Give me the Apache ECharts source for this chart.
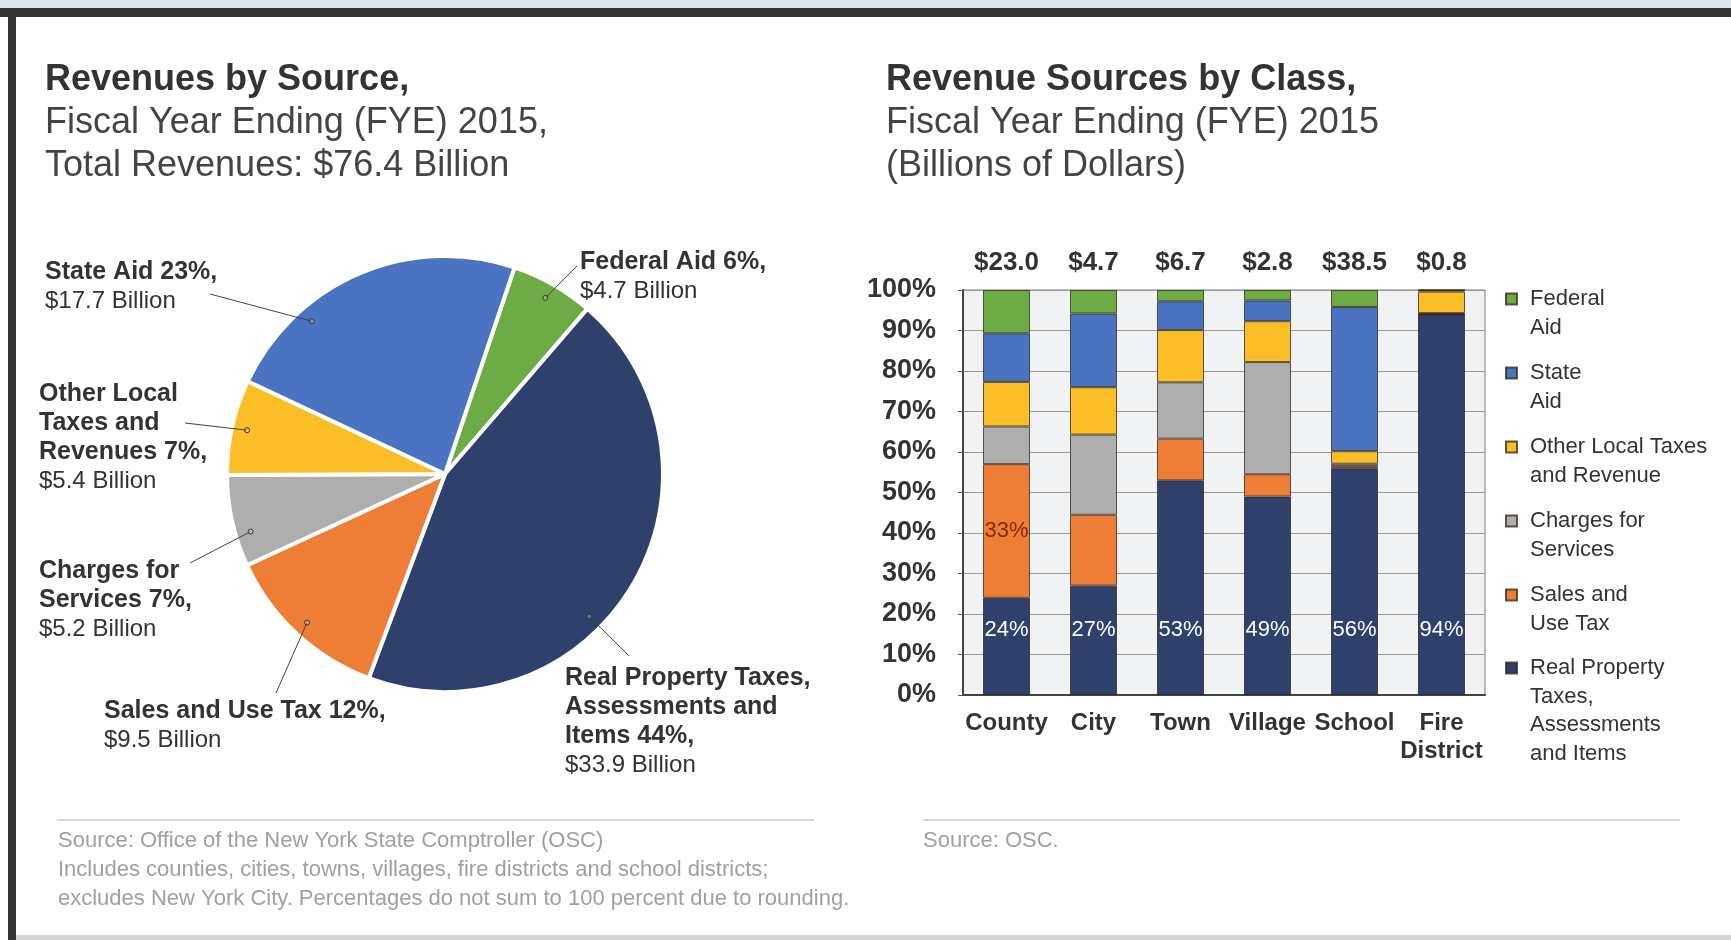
<!DOCTYPE html>
<html>
<head>
<meta charset="utf-8">
<script src="https://cdn.jsdelivr.net/npm/echarts@6/dist/echarts.min.js"></script>
<style>
  html, body { margin: 0; padding: 0; background: #ffffff; }
  #chart { width: 1731px; height: 940px; }
</style>
</head>
<body>
<div id="chart"></div>
<script>
// ---- Revenues by source, FYE 2015 (billions of dollars) ----
const sourceLabelLines = [
  ['Federal Aid'],
  ['Real Property Taxes,', 'Assessments and', 'Items'],
  ['Sales and Use Tax'],
  ['Charges for', 'Services'],
  ['Other Local', 'Taxes and', 'Revenues'],
  ['State Aid']
];
const sourceNames = ['Federal Aid', 'Real Property Taxes, Assessments and Items', 'Sales and Use Tax',
  'Charges for Services', 'Other Local Taxes and Revenues', 'State Aid'];
const sourceBillions = [4.7, 33.9, 9.5, 5.2, 5.4, 17.7];

// ---- Revenue sources by class, FYE 2015 (percent of each class total) ----
const classes = ['County', 'City', 'Town', 'Village', 'School', 'Fire\nDistrict'];
const classTotals = [23.0, 4.7, 6.7, 2.8, 38.5, 0.8];
const realProperty = [24, 27, 53, 49, 56, 94];
const salesUse = [33, 17.5, 10.3, 5.5, 0.5, 0];
const chargesServices = [9.3, 19.8, 13.9, 27.7, 0.6, 0.3];
const otherLocal = [11, 11.7, 12.9, 10.1, 3.1, 5.3];
const stateAid = [12, 18.2, 7.1, 5.1, 35.6, 0.4];
const federalAid = [10.7, 5.8, 2.8, 2.6, 4.2, 0];
const yTicks = [0, 10, 20, 30, 40, 50, 60, 70, 80, 90, 100];

// ---- palette and layout ----
const C = {
  federal: '#6dab45', state: '#4a74c1', other: '#fbbe26',
  charges: '#aeaeae', sales: '#ee7d35', real: '#2f406c'
};
const pieColors = [C.federal, C.real, C.sales, C.charges, C.other, C.state];
const FONT = '"Liberation Sans", Arial, Helvetica, sans-serif';
const pieCenter = [445, 474];
const pieRadius = 218;
const pieStartAngle = 71.4;          // ECharts convention: degrees counter-clockwise from 3 o'clock
// label block top-left corner, where its leader line meets the text,
// and how far (degrees, clockwise) the line's inner end sits from the slice middle
const pieLabelSpots = [
  { x: 580, y: 248, end: [-3, 18], turn: 0 },
  { x: 565, y: 664, end: [64, -8], turn: 14 },
  { x: 104, y: 697, end: [172, -4], turn: 0 },
  { x: 39, y: 557, end: [151, 6], turn: -4 },
  { x: 39, y: 380, end: [146, 43], turn: 0 },
  { x: 45, y: 258, end: [165, 36], turn: -18 }
];

const legendWrap = {
  'Federal Aid': ['Federal', 'Aid'],
  'State Aid': ['State', 'Aid'],
  'Other Local Taxes and Revenue': ['Other Local Taxes', 'and Revenue'],
  'Charges for Services': ['Charges for', 'Services'],
  'Sales and Use Tax': ['Sales and', 'Use Tax'],
  'Real Property Taxes, Assessments and Items': ['Real Property', 'Taxes,', 'Assessments', 'and Items']
};
const legendFirstLineY = {
  'Federal Aid': 299, 'State Aid': 373, 'Other Local Taxes and Revenue': 447,
  'Charges for Services': 521, 'Sales and Use Tax': 595,
  'Real Property Taxes, Assessments and Items': 668
};
const LEG_LH = 28.5;

const segBorder = { borderColor: 'rgba(45,35,25,0.75)', borderWidth: 1 };

function barSeries(name, data, color, extra) {
  return Object.assign({
    name: name,
    type: 'bar',
    stack: 'share',
    xAxisIndex: 0,
    yAxisIndex: 0,
    barWidth: 47,
    data: data,
    itemStyle: Object.assign({ color: color }, segBorder),
    emphasis: { disabled: true }
  }, extra || {});
}

const barSeriesList = [
  barSeries('Real Property Taxes, Assessments and Items', realProperty, C.real, {
    label: {
      show: true, position: 'insideBottom', distance: 54,
      formatter: p => p.value + '%',
      color: '#ffffff', fontSize: 22, fontFamily: FONT
    }
  }),
  barSeries('Sales and Use Tax', salesUse.map((v, i) => i === 0
    ? { value: v, label: { show: true } } : v), C.sales, {
    label: {
      show: false, position: 'inside',
      formatter: p => p.value + '%',
      color: '#7d2c0c', fontSize: 22, fontFamily: FONT
    }
  }),
  barSeries('Charges for Services', chargesServices, C.charges),
  barSeries('Other Local Taxes and Revenue', otherLocal, C.other),
  barSeries('State Aid', stateAid, C.state),
  barSeries('Federal Aid', federalAid, C.federal)
];

// one legend per entry so the swatch lines up with the first text line;
// blank lines above the text keep the swatch level with that line
const legendOrder = ['Federal Aid', 'State Aid', 'Other Local Taxes and Revenue',
  'Charges for Services', 'Sales and Use Tax', 'Real Property Taxes, Assessments and Items'];
const legends = legendOrder.map(name => {
  const n = legendWrap[name].length;
  return {
    left: 1505,
    top: legendFirstLineY[name] - (n - 0.5) * LEG_LH,
    orient: 'vertical',
    padding: 0,
    itemWidth: 11,
    itemHeight: 11,
    selectedMode: false,
    data: [{ name: name, icon: 'rect' }],
    formatter: nm => '\n'.repeat(legendWrap[nm].length - 1) + legendWrap[nm].join('\n'),
    textStyle: {
      fontFamily: FONT, fontSize: 22, color: '#333333',
      lineHeight: LEG_LH, padding: [0, 0, 0, 8]
    }
  };
});

const pieData = sourceNames.map((nm, i) => ({
  name: nm, value: sourceBillions[i], itemStyle: { color: pieColors[i] }
}));

// leader lines: from a ring just inside each slice (placed from the slice's own
// angular span) to the edge of its text block
const pieTotal = sourceBillions.reduce((a, b) => a + b, 0);
const leaderGraphics = [];
(function () {
  let acc = 0;
  const fromTop = 90 - pieStartAngle;          // clockwise degrees from 12 o'clock
  sourceBillions.forEach((v, i) => {
    const s = pieLabelSpots[i];
    const mid = fromTop + (acc + v / 2) / pieTotal * 360 + s.turn;
    acc += v;
    const a = mid * Math.PI / 180;
    const r = pieRadius * 0.93;
    const p0 = [pieCenter[0] + r * Math.sin(a), pieCenter[1] - r * Math.cos(a)];
    const p1 = [s.x + s.end[0], s.y + s.end[1]];
    leaderGraphics.push({
      type: 'polyline', silent: true, z: 100,
      shape: { points: [p0, p1] },
      style: { stroke: '#444444', lineWidth: 1, fill: null }
    });
    leaderGraphics.push({
      type: 'circle', silent: true, z: 101,
      shape: { cx: p0[0], cy: p0[1], r: 2.5 },
      style: { fill: 'rgba(255,255,255,0.25)', stroke: '#333333', lineWidth: 1 }
    });
  });
})();

const titleRich = {
  b: { fontFamily: FONT, fontSize: 36, fontWeight: 'bold', color: '#333333', lineHeight: 43 },
  n: { fontFamily: FONT, fontSize: 36, fontWeight: 'normal', color: '#444444', lineHeight: 43 }
};

const frameGraphics = [
  { type: 'rect', shape: { x: 0, y: 0, width: 1731, height: 8 }, style: { fill: '#dfe5ea' }, silent: true },
  { type: 'rect', shape: { x: 0, y: 8, width: 1731, height: 9 }, style: { fill: '#333333' }, silent: true },
  { type: 'rect', shape: { x: 8, y: 8, width: 8, height: 932 }, style: { fill: '#333333' }, silent: true },
  { type: 'rect', shape: { x: 16, y: 935, width: 1715, height: 5 }, style: { fill: '#d4d4d4' }, silent: true },
  { type: 'line', shape: { x1: 57, y1: 820, x2: 814, y2: 820 }, style: { stroke: '#d6d6d6', lineWidth: 2 }, silent: true },
  { type: 'line', shape: { x1: 923, y1: 820, x2: 1680, y2: 820 }, style: { stroke: '#d6d6d6', lineWidth: 2 }, silent: true },
  {
    type: 'text', x: 58, y: 826, silent: true,
    style: {
      text: 'Source: Office of the New York State Comptroller (OSC)\n' +
        'Includes counties, cities, towns, villages, fire districts and school districts;\n' +
        'excludes New York City. Percentages do not sum to 100 percent due to rounding.',
      font: '22px ' + FONT, fill: '#a0a0a0', lineHeight: 29, verticalAlign: 'top'
    }
  },
  {
    type: 'text', x: 923, y: 826, silent: true,
    style: { text: 'Source: OSC.', font: '22px ' + FONT, fill: '#a0a0a0', lineHeight: 29, verticalAlign: 'top' }
  }
];

const option = {
  animation: false,
  backgroundColor: '#ffffff',
  title: [
    {
      left: 45, top: 59, padding: 0,
      text: '{b|Revenues by Source,}\n{n|Fiscal Year Ending (FYE) 2015,}\n{n|Total Revenues: $76.4 Billion}',
      textStyle: { fontFamily: FONT, fontWeight: 'normal', rich: titleRich }
    },
    {
      left: 886, top: 59, padding: 0,
      text: '{b|Revenue Sources by Class,}\n{n|Fiscal Year Ending (FYE) 2015}\n{n|(Billions of Dollars)}',
      textStyle: { fontFamily: FONT, fontWeight: 'normal', rich: titleRich }
    }
  ],
  legend: legends,
  grid: {
    left: 963, right: 246, top: 290, bottom: 245,
    show: true, backgroundColor: '#f1f2f4', borderColor: '#7a7a7a', borderWidth: 1
  },
  xAxis: [
    {
      type: 'category', data: classes, position: 'bottom',
      axisLine: { show: true, lineStyle: { color: '#444444', width: 2 } },
      axisTick: { show: false },
      axisLabel: {
        interval: 0, margin: 14, fontFamily: FONT, fontSize: 24, fontWeight: 'bold',
        color: '#333333', lineHeight: 28
      }
    },
    {
      type: 'category', data: classTotals.map(v => '$' + v.toFixed(1)), position: 'top',
      axisLine: { show: false }, axisTick: { show: false },
      axisLabel: {
        interval: 0, margin: 14, fontFamily: FONT, fontSize: 26, fontWeight: 'bold', color: '#333333'
      }
    }
  ],
  yAxis: {
    type: 'value', min: yTicks[0], max: yTicks[yTicks.length - 1], interval: 10,
    axisLine: { show: true, lineStyle: { color: '#444444', width: 2 } },
    axisTick: { show: true, length: 5, lineStyle: { color: '#555555' } },
    splitLine: { show: true, lineStyle: { color: '#9a9a9a', width: 1 } },
    axisLabel: {
      margin: 27, formatter: '{value}%', fontFamily: FONT, fontSize: 27, fontWeight: 'bold', color: '#333333'
    }
  },
  series: barSeriesList.concat([{
    type: 'pie',
    center: pieCenter,
    radius: pieRadius,
    startAngle: pieStartAngle,
    clockwise: true,
    avoidLabelOverlap: false,
    silent: true,
    itemStyle: { borderColor: '#ffffff', borderWidth: 4 },
    label: {
      show: true,
      position: 'outside',
      fontFamily: FONT,
      formatter: p => {
        const lines = sourceLabelLines[p.dataIndex].slice();
        lines[lines.length - 1] += ' ' + Math.round(p.percent) + '%,';
        return lines.map(t => '{b|' + t + '}').join('\n') +
          '\n{n|$' + p.value.toFixed(1) + ' Billion}';
      },
      rich: {
        b: { fontFamily: FONT, fontSize: 25, fontWeight: 'bold', color: '#333333', lineHeight: 29 },
        n: { fontFamily: FONT, fontSize: 24, fontWeight: 'normal', color: '#333333', lineHeight: 29 }
      }
    },
    labelLine: { show: false },
    labelLayout: p => {
      const s = pieLabelSpots[p.dataIndex];
      return { x: s.x, y: s.y, align: 'left', verticalAlign: 'top', hideOverlap: false };
    },
    data: pieData
  }]),
  graphic: frameGraphics.concat(leaderGraphics)
};

const chart = echarts.init(document.getElementById('chart'), null, { renderer: 'canvas' });
chart.setOption(option);
</script>
</body>
</html>
